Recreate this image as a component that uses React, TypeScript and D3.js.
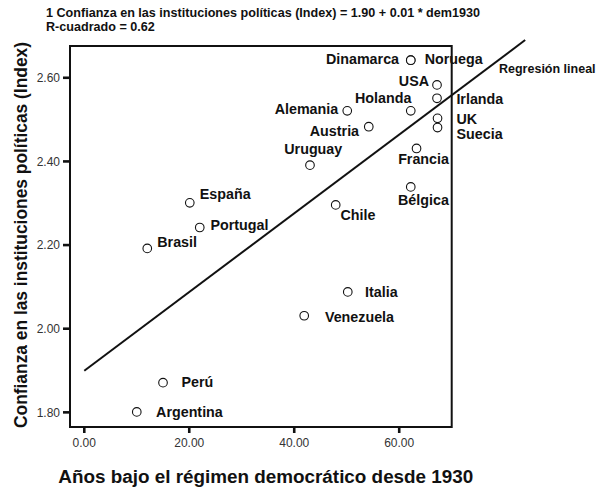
import React from "react";
import * as d3 from "d3";

// ---- data ----
const countries = [
  "Dinamarca", "Noruega", "USA", "Irlanda", "Holanda", "Alemania", "Austria",
  "UK", "Suecia", "Uruguay", "Francia", "Bélgica", "Chile", "España",
  "Portugal", "Brasil", "Italia", "Venezuela", "Perú", "Argentina",
];
const yearsDemocratic = [
  62.2, 62.2, 67.2, 67.2, 62.2, 50.1, 54.2,
  67.3, 67.3, 43.0, 63.3, 62.2, 47.9, 20.1,
  22.0, 12.0, 50.2, 41.9, 15.0, 10.0,
];
const confidenceIndex = [
  2.642, 2.642, 2.583, 2.551, 2.521, 2.521, 2.483,
  2.503, 2.481, 2.391, 2.431, 2.339, 2.296, 2.301,
  2.242, 2.192, 2.088, 2.031, 1.871, 1.801,
];
const xTicks = [0, 20, 40, 60];
const yTicks = [1.8, 2.0, 2.2, 2.4, 2.6];
const titleLine1 = "1 Confianza en las instituciones políticas (Index) = 1.90 + 0.01 * dem1930";
const titleLine2 = "R-cuadrado = 0.62";
const xTitle = "Años bajo el régimen democrático desde 1930";
const yTitle = "Confianza en las instituciones políticas (Index)";
const fitLabel = "Regresión lineal";
const fitExtent = [0, 84];

// ---- label placement (layout only) ----
type LabelPos = { dx: number; dy: number; anchor: "start" | "end" | "middle" };
const labelLayout: Record<string, LabelPos> = {
  Dinamarca: { dx: -11.7, dy: 4, anchor: "end" },
  Noruega: { dx: 14, dy: 4, anchor: "start" },
  USA: { dx: -8, dy: 1, anchor: "end" },
  Irlanda: { dx: 19.4, dy: 5.7, anchor: "start" },
  Holanda: { dx: 0.7, dy: -8, anchor: "end" },
  Alemania: { dx: -9, dy: 3.3, anchor: "end" },
  Austria: { dx: -9.7, dy: 9, anchor: "end" },
  UK: { dx: 19, dy: 5.7, anchor: "start" },
  Suecia: { dx: 19, dy: 11.4, anchor: "start" },
  Uruguay: { dx: -25.7, dy: -11, anchor: "start" },
  Francia: { dx: -18.4, dy: 15.7, anchor: "start" },
  "Bélgica": { dx: -12.7, dy: 17.6, anchor: "start" },
  Chile: { dx: 4.7, dy: 15, anchor: "start" },
  "España": { dx: 10, dy: -3.4, anchor: "start" },
  Portugal: { dx: 10.7, dy: 2.7, anchor: "start" },
  Brasil: { dx: 10, dy: -1.6, anchor: "start" },
  Italia: { dx: 17.3, dy: 5, anchor: "start" },
  Venezuela: { dx: 20.7, dy: 6, anchor: "start" },
  "Perú": { dx: 18.4, dy: 4.7, anchor: "start" },
  Argentina: { dx: 19.3, dy: 5, anchor: "start" },
};

const W = 598;
const H = 489;
const FONT = "'Liberation Sans', Arial, Helvetica, sans-serif";

export default function App() {
  const x = d3.scaleLinear().domain([-2.72, 70]).range([70, 451.7]);
  const y = d3.scaleLinear().domain([1.765, 2.676]).range([427, 46]);

  // least-squares fit from the data
  const mx = d3.mean(yearsDemocratic) as number;
  const my = d3.mean(confidenceIndex) as number;
  const sxy = d3.sum(yearsDemocratic, (v, i) => (v - mx) * (confidenceIndex[i] - my));
  const sxx = d3.sum(yearsDemocratic, (v) => (v - mx) * (v - mx));
  const slope = sxy / sxx;
  const intercept = my - slope * mx;
  const fitLine = d3
    .line<number>()
    .x((v) => x(v))
    .y((v) => y(intercept + slope * v))(fitExtent) as string;

  const [x0, x1] = x.range();
  const [y0, y1] = y.range();

  return (
    <svg
      width={W}
      height={H}
      viewBox={`0 0 ${W} ${H}`}
      style={{ position: "absolute", left: 0, top: 0, background: "#fff" }}
      fontFamily={FONT}
    >
      <rect x={0} y={0} width={W} height={H} fill="#fff" />
      {/* title */}
      <text x={46} y={17.3} fontSize={12.6} fontWeight="bold" fill="#111">
        {titleLine1}
      </text>
      <text x={46} y={31} fontSize={12.6} fontWeight="bold" fill="#111">
        {titleLine2}
      </text>

      {/* frame */}
      <rect
        x={x0}
        y={y1}
        width={x1 - x0}
        height={y0 - y1}
        fill="none"
        stroke="#111"
        strokeWidth={2}
      />

      {/* y ticks */}
      {yTicks.map((t) => (
        <g key={`y${t}`}>
          <line x1={x0 - 7} x2={x0} y1={y(t)} y2={y(t)} stroke="#111" strokeWidth={2.6} />
          <text
            x={x0 - 10}
            y={y(t)}
            dy="0.36em"
            textAnchor="end"
            fontSize={12}
            fill="#333"
          >
            {d3.format(".2f")(t)}
          </text>
        </g>
      ))}

      {/* x ticks */}
      {xTicks.map((t) => (
        <g key={`x${t}`}>
          <line x1={x(t)} x2={x(t)} y1={y0} y2={y0 + 6} stroke="#111" strokeWidth={2.6} />
          <text x={x(t)} y={446.7} textAnchor="middle" fontSize={12} fill="#333">
            {d3.format(".2f")(t)}
          </text>
        </g>
      ))}

      {/* fit line */}
      <path d={fitLine} fill="none" stroke="#111" strokeWidth={2} />
      <text x={499} y={72.7} fontSize={12.5} fontWeight="bold" fill="#111">
        {fitLabel}
      </text>

      {/* points */}
      {countries.map((c, i) => (
        <circle
          key={`p${c}`}
          cx={x(yearsDemocratic[i])}
          cy={y(confidenceIndex[i])}
          r={4.3}
          fill="#fff"
          stroke="#111"
          strokeWidth={1.1}
        />
      ))}

      {/* labels */}
      {countries.map((c, i) => {
        const p = labelLayout[c];
        return (
          <text
            key={`l${c}`}
            x={x(yearsDemocratic[i]) + p.dx}
            y={y(confidenceIndex[i]) + p.dy}
            textAnchor={p.anchor}
            fontSize={14.3}
            fontWeight="bold"
            fill="#111"
          >
            {c}
          </text>
        );
      })}

      {/* axis titles */}
      <text
        x={265.8}
        y={482.5}
        textAnchor="middle"
        fontSize={18}
        fontWeight="bold"
        fill="#111"
        textLength={415}
        lengthAdjust="spacingAndGlyphs"
      >
        {xTitle}
      </text>
      <text
        transform={`translate(26.5, 235) rotate(-90)`}
        textAnchor="middle"
        fontSize={17.5}
        fontWeight="bold"
        fill="#111"
        textLength={386}
        lengthAdjust="spacingAndGlyphs"
      >
        {yTitle}
      </text>
    </svg>
  );
}
